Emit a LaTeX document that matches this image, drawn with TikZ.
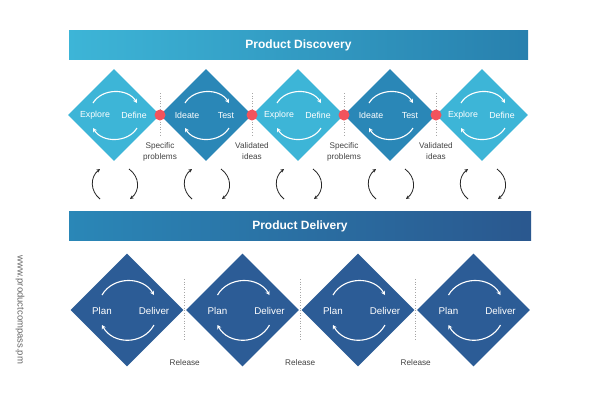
\documentclass[tikz,border=0pt]{standalone}
\usepackage{fontspec}
\setmainfont{Liberation Sans}
\usetikzlibrary{shapes.geometric,arrows.meta}
\definecolor{cyanD}{HTML}{3DB5D7}
\definecolor{blueD}{HTML}{2A87B7}
\definecolor{navyD}{HTML}{2C5C96}
\definecolor{dotred}{HTML}{F2535C}
\definecolor{txtgray}{HTML}{444444}
\tikzset{
  dia/.style={diamond,draw=none,inner sep=0pt,minimum width=#1,minimum height=#1},
  lbl/.style={text=white,font=\fontsize{8.8}{10}\selectfont,inner sep=0pt},
  lblB/.style={text=white,font=\fontsize{9.8}{11}\selectfont,inner sep=0pt},
  warc/.style={draw=white,line width=1.1pt,-{Stealth[length=4pt,width=4.5pt]}},
  karc/.style={draw=black!85,line width=0.8pt,-{Stealth[length=3.5pt,width=3.5pt]}},
  sep/.style={draw=gray!70,dotted,line width=0.6pt},
  note/.style={text=txtgray,font=\fontsize{8.2}{11}\selectfont,align=center,inner sep=0pt},
  banner/.style={text=white,font=\bfseries\fontsize{12}{14}\selectfont}
}
\begin{document}
\begin{tikzpicture}[x=1pt,y=-1pt]
\useasboundingbox (0,0) rectangle (600,400);
\fill[white] (0,0) rectangle (600,400);
% banners
\shade[left color=cyanD,right color=blueD!95!black] (69,30) rectangle (528,59);
\node[banner] (disc) at (298.5,45) {Product Discovery};
\shade[left color=blueD,right color=navyD!95!black] (69,211) rectangle (531,240);
\node[banner] (deliv) at (300,226) {Product Delivery};
% top diamonds
\foreach \i/\cx/\col/\a/\b in {1/114/cyanD/Explore/Define,2/206/blueD/Ideate/Test,3/298/cyanD/Explore/Define,4/390/blueD/Ideate/Test,5/482/cyanD/Explore/Define}{
  \node[dia=92pt,fill=\col] (d\i) at (\cx,115) {};
  \node[lbl] (a\i) at (\cx-19,115.5) {\a};
  \node[lbl] (b\i) at (\cx+20,115.5) {\b};
  \draw[warc] (\cx-21,103) .. controls (\cx-12,88) and (\cx+14,88) .. (\cx+23,103);
  \draw[warc] (\cx+23,128) .. controls (\cx+14,143) and (\cx-12,143) .. (\cx-21,128);
  \draw[karc] (\cx-14,199) .. controls (\cx-24,191) and (\cx-24,177) .. (\cx-14,169);
  \draw[karc] (\cx+15,169) .. controls (\cx+26,177) and (\cx+26,191) .. (\cx+16,199);
}
% separators + dots
\foreach \j/\x/\t in {1/160/Specific\\problems,2/252/Validated\\ideas,3/344/Specific\\problems,4/436/Validated\\ideas}{
  \draw[sep] (\x,93) -- (\x,136);
  \node[circle,fill=dotred,minimum size=11pt,inner sep=0pt] (r\j) at (\x,115) {};
  \node[note,anchor=north] (n\j) at (\x,142) {\t};
}
% bottom diamonds
\foreach \i/\cx in {1/127,2/242.5,3/358,4/473.5}{
  \node[dia=113pt,fill=navyD] (p\i) at (\cx,310) {};
  \node[lblB] (pl\i) at (\cx-25,310.5) {Plan};
  \node[lblB] (dl\i) at (\cx+27,310.5) {Deliver};
  \draw[warc] (\cx-25,295) .. controls (\cx-14,276) and (\cx+16,276) .. (\cx+27,295);
  \draw[warc] (\cx+27,325) .. controls (\cx+16,345) and (\cx-14,345) .. (\cx-25,325);
}
\foreach \j/\x in {1/184.75,2/300.25,3/415.75}{
  \draw[sep] (\x,279) -- (\x,340);
  \node[note] (rel\j) at (\x,363) {Release};
}
\node[rotate=-90,text=gray!80!black,font=\fontsize{9.5}{11}\selectfont] (url) at (20,310) {www.productcompass.pm};
\end{tikzpicture}
\end{document}
